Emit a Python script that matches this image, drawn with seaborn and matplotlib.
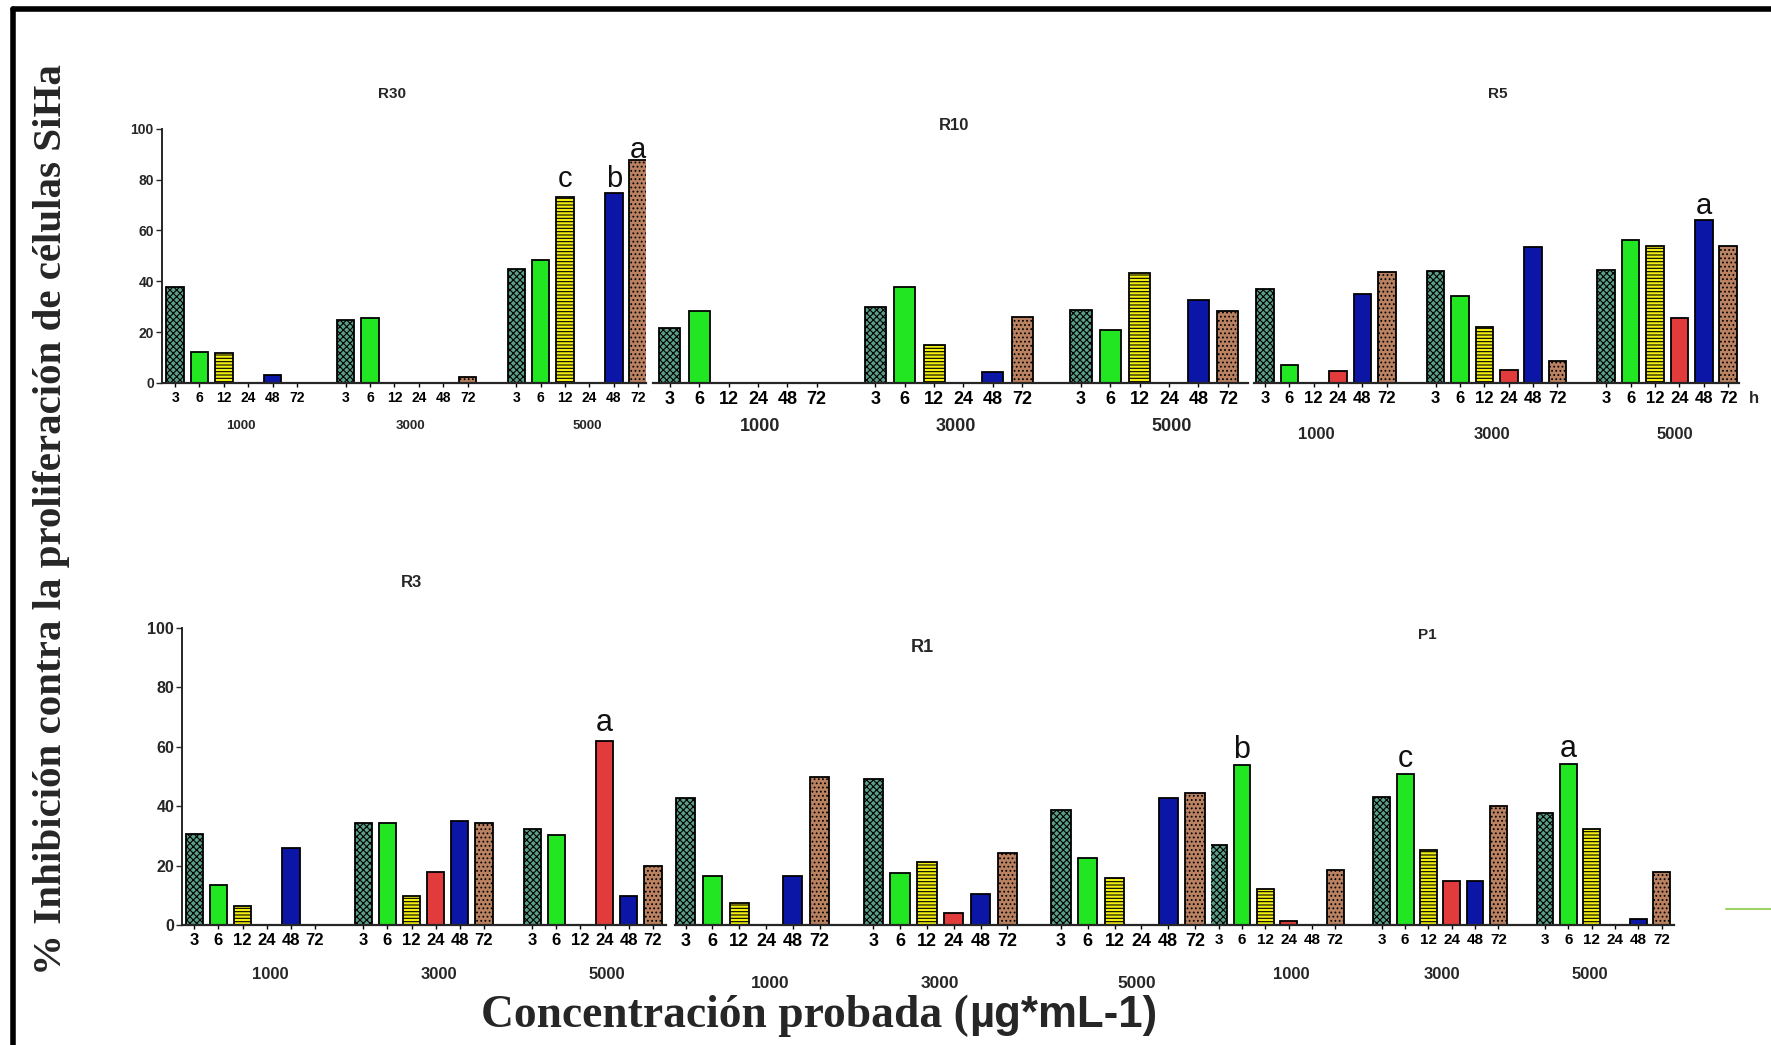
import matplotlib
matplotlib.use("Agg")
import matplotlib.pyplot as plt
import seaborn as sns
import pandas as pd
from matplotlib.lines import Line2D

sns.set_style("ticks")
plt.rcParams["font.family"] = ["Liberation Sans", "DejaVu Sans"]
plt.rcParams["hatch.linewidth"] = 0.8

# ---------------- data ----------------
times = ["3", "6", "12", "24", "48", "72"]
concentrations = ["1000", "3000", "5000"]

# values: 1000 (3..72h), 3000 (3..72h), 5000 (3..72h)
r30_values = [37.8, 12.2, 11.8, 0, 3.1, 0,
              24.9, 25.6, 0, 0, 0, 2.5,
              44.9, 48.4, 73.1, 0, 74.9, 87.9]
r10_values = [21.8, 28.4, 0, 0, 0, 0,
              29.7, 37.8, 14.9, 0, 4.1, 26.0,
              28.7, 20.9, 43.1, 0, 32.6, 28.4]
r5_values = [36.8, 6.9, 0, 4.7, 35.1, 43.7,
             43.9, 34.1, 22.1, 5.2, 53.4, 8.7,
             44.3, 56.1, 53.8, 25.7, 64.0, 54.0]
r3_values = [30.7, 13.3, 6.5, 0, 26.0, 0,
             34.3, 34.3, 9.6, 17.8, 34.9, 34.5,
             32.2, 30.2, 0, 61.8, 9.9, 19.7]
r1_values = [42.8, 16.4, 7.4, 0, 16.6, 49.8,
             49.0, 17.5, 21.3, 4.1, 10.5, 24.3,
             38.6, 22.7, 15.9, 0, 42.6, 44.5]
p1_values = [26.9, 54.0, 12.2, 1.4, 0, 18.4,
             43.2, 50.7, 25.3, 14.7, 14.7, 39.9,
             37.6, 54.2, 32.3, 0, 2.1, 17.9]

# significance letters: (concentration, time, letter)
r30_letters = [("5000", "12", "c"), ("5000", "48", "b"), ("5000", "72", "a")]
r10_letters = []
r5_letters = [("5000", "48", "a")]
r3_letters = [("5000", "24", "a")]
r1_letters = []
p1_letters = [("1000", "6", "b"), ("3000", "6", "c"), ("5000", "6", "a")]

yticks = [0, 20, 40, 60, 80, 100]

# ---------------- styles ----------------
colors = ["#5a9f89", "#22e622", "#f2ee10", "#e23b3b", "#0b16a6", "#bb8262"]
hatches = ["xxxxx", None, "-----", None, None, "...."]
# vertical gap (in data units) between bar top and its letter, per panel/letter
letter_gap = {"R30": {"c": 1.5, "b": -0.3, "a": -1.6}, "R5": {"a": 0.2},
              "R3": {"a": 1.1}, "P1": {"b": 0.0, "c": 0.0, "a": 0.0}}

W, H, DPI = 1771, 1045, 100
fig = plt.figure(figsize=(W / DPI, H / DPI), dpi=DPI)
fig.patch.set_facecolor("white")

rows = {"top": (382.9, 128.8), "bottom": (925.0, 628.0)}

order = []
for gi, c in enumerate(concentrations):
    for t in times:
        order.append(f"{c}|{t}")
    if gi < len(concentrations) - 1:
        order.append(f"gap{gi}")
bar_slots = [order.index(f"{c}|{t}") for c in concentrations for t in times]

panels = [
    dict(name="R30", values=r30_values, letters=r30_letters, row="top",
         left=161.5, first=175.1, last=638.2, right=646, yaxis=True,
         tick_fs=10, ytick_fs=10, group_fs=9.5, group_x=[240.6, 410, 587.3],
         group_y=425.8, title_xy=(391.9, 93.7), title_fs=11, letter_fs=21),
    dict(name="R10", values=r10_values, letters=r10_letters, row="top",
         left=652.9, first=669.8, last=1227.8, right=1248, yaxis=False,
         tick_fs=13, group_fs=13, group_x=[760.2, 955.6, 1171.3],
         group_y=426.5, title_xy=(954.4, 125.5), title_fs=12, letter_fs=21),
    dict(name="R5", values=r5_values, letters=r5_letters, row="top",
         left=1253.7, first=1265, last=1728.1, right=1739.4, yaxis=False,
         tick_fs=12, group_fs=12, group_x=[1315.9, 1492.1, 1675],
         group_y=434.5, title_xy=(1497.7, 93.7), title_fs=11, letter_fs=21),
    dict(name="R3", values=r3_values, letters=r3_letters, row="bottom",
         left=181.8, first=194.3, last=652.9, right=666.4, yaxis=True,
         tick_fs=12, ytick_fs=11.5, group_fs=12, group_x=[270, 439.4, 606.5],
         group_y=974.5, title_xy=(411.1, 582.8), title_fs=12, letter_fs=22),
    dict(name="R1", values=r1_values, letters=r1_letters, row="bottom",
         left=675.4, first=685.6, last=1195, right=1208.6, yaxis=False,
         tick_fs=13, group_fs=12.5, group_x=[770.3, 939.7, 1136.3],
         group_y=983.5, title_xy=(922.8, 647.2), title_fs=13, letter_fs=22),
    dict(name="P1", values=p1_values, letters=p1_letters, row="bottom",
         left=1210.8, first=1218.7, last=1661.5, right=1674, yaxis=False,
         tick_fs=11, group_fs=12, group_x=[1291, 1442.4, 1590.3],
         group_y=974.5, title_xy=(1427.7, 634.8), title_fs=11, letter_fs=22),
]

for p in panels:
    base, top = rows[p["row"]]
    ax = fig.add_axes([p["left"] / W, 1 - base / H,
                       (p["right"] - p["left"]) / W, (base - top) / H])
    ax.set_facecolor("none")
    recs = []
    k = 0
    for c in concentrations:
        for t in times:
            recs.append({"slot": f"{c}|{t}", "conc": c, "time": t,
                         "value": p["values"][k]})
            k += 1
    df = pd.DataFrame(recs)
    for ti, t in enumerate(times):
        sub = df[(df["time"] == t) & (df["value"] > 0)]
        if sub.empty:
            continue
        kw = {}
        if hatches[ti]:
            kw["hatch"] = hatches[ti]
        sns.barplot(data=sub, x="slot", y="value", order=order,
                    color=colors[ti], saturation=1, errorbar=None,
                    edgecolor="black", linewidth=1.3, width=0.72, ax=ax, **kw)
    pitch = (p["last"] - p["first"]) / 19.0
    ax.set_xlim((p["left"] - p["first"]) / pitch,
                19 + (p["right"] - p["last"]) / pitch)
    ax.set_ylim(0, 100)
    ax.set_xlabel("")
    ax.set_ylabel("")
    ax.set_xticks(bar_slots)
    ax.set_xticklabels(times * 3, fontsize=p["tick_fs"], fontweight="bold")
    ax.tick_params(axis="x", length=3, width=1, pad=2.5, colors="black")
    for s in ["top", "right"]:
        ax.spines[s].set_visible(False)
    ax.spines["bottom"].set_linewidth(1.6)
    if p["yaxis"]:
        ax.spines["left"].set_linewidth(1.4)
        ax.set_yticks(yticks)
        ax.set_yticklabels([str(v) for v in yticks],
                           fontsize=p["ytick_fs"], fontweight="bold")
        ax.tick_params(axis="y", length=4, width=1, pad=1.5)
    else:
        ax.spines["left"].set_visible(False)
        ax.set_yticks([])
    # significance letters
    for (c, t, letter) in p["letters"]:
        idx = concentrations.index(c) * len(times) + times.index(t)
        gap = letter_gap.get(p["name"], {}).get(letter, 1.0)
        ax.text(bar_slots[idx], p["values"][idx] + gap, letter,
                ha="center", va="bottom", fontsize=p["letter_fs"],
                color="#111111", clip_on=False)
    # title and group labels
    fig.text(p["title_xy"][0] / W, 1 - p["title_xy"][1] / H, p["name"],
             ha="center", va="center", fontsize=p["title_fs"],
             fontweight="bold")
    for gx, c in zip(p["group_x"], concentrations):
        fig.text(gx / W, 1 - p["group_y"] / H, c, ha="center", va="center",
                 fontsize=p["group_fs"], fontweight="bold")

# hour unit
fig.text(1754 / W, 1 - 398.7 / H, "h", ha="center", va="center",
         fontsize=12, fontweight="bold")

# axis titles
fig.text(51.5 / W, 1 - 519.6 / H,
         "% Inhibición contra la proliferación de células SiHa",
         rotation=90, ha="center", va="center", fontsize=29.5,
         fontweight="bold", family=["Liberation Serif", "DejaVu Serif"])
split_x = 969
fig.text(split_x / W, 1 - 1016 / H, "Concentración probada (",
         ha="right", va="center", fontsize=32.8, fontweight="bold",
         family=["Liberation Serif", "DejaVu Serif"])
fig.text(split_x / W, 1 - 1016 / H, "µg*mL-1)",
         ha="left", va="center", fontsize=31.5, fontweight="bold",
         family=["Liberation Sans", "DejaVu Sans"])

# frame of the original image
fig.add_artist(Line2D([13 / W, 13 / W], [0, 1 - 9 / H], color="black",
                      linewidth=4, transform=fig.transFigure))
fig.add_artist(Line2D([13 / W, 1], [1 - 9 / H, 1 - 9 / H], color="black",
                      linewidth=4, transform=fig.transFigure))
# small green stroke at right
fig.add_artist(Line2D([1726 / W, 1], [1 - 909 / H, 1 - 909 / H],
                      color="#9fd36a", linewidth=1.5,
                      transform=fig.transFigure))

fig.savefig("out.png", dpi=DPI, facecolor="white")
